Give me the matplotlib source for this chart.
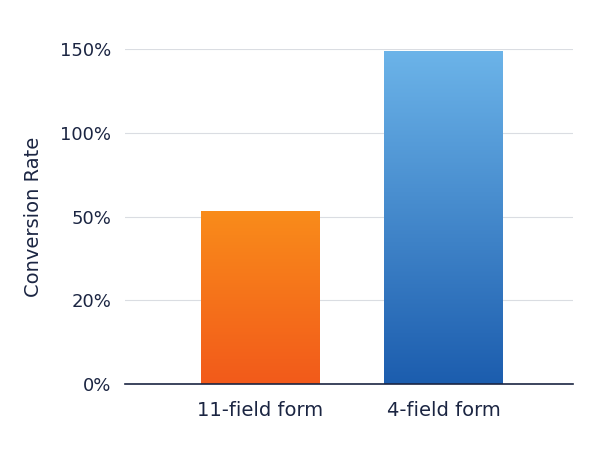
import numpy as np
import matplotlib
matplotlib.use("Agg")
import matplotlib.pyplot as plt
from matplotlib.colors import LinearSegmentedColormap

categories = ["11-field form", "4-field form"]
values = [53.5, 149]
tick_values = [0, 20, 50, 100, 150]
tick_labels = ["0%", "20%", "50%", "100%", "150%"]
top_colors = ["#F98C1B", "#6CB4E9"]
bottom_colors = ["#F25A1A", "#1C5DAE"]

idx = np.arange(len(tick_values), dtype=float)
fwd = lambda v: np.interp(v, tick_values, idx)
inv = lambda p: np.interp(p, idx, tick_values)

navy = "#1B2542"
fig = plt.figure(figsize=(6.11, 4.5), dpi=100)
ax = fig.add_axes([0.2046, 0.1467, 0.7334, 0.7443])
ax.set_yscale("function", functions=(fwd, inv))
ax.set_ylim(0, 150)
ax.set_xlim(-0.738, 1.708)
x = np.arange(len(categories))
bars = ax.bar(x, values, width=0.645, color="none")
ax.set_yticks(tick_values)
ax.set_yticklabels(tick_labels, fontsize=13, color=navy)
ax.set_xticks(x)
ax.set_xticklabels(categories, fontsize=14, color=navy)
ax.tick_params(length=0, pad=10)
ax.tick_params(axis="x", pad=12)
ax.grid(axis="y", color="#DADDE2", linewidth=0.8)
ax.set_axisbelow(True)
for s in ["top", "right", "left"]:
    ax.spines[s].set_visible(False)
ax.spines["bottom"].set_color(navy)
ax.spines["bottom"].set_linewidth(1.2)
ax.set_ylabel("Conversion Rate", fontsize=14, color=navy, labelpad=12)

t = ax.transData + ax.transAxes.inverted()
grad = np.linspace(1, 0, 256).reshape(-1, 1)
for b, v, tc, bc in zip(bars, values, top_colors, bottom_colors):
    x0 = b.get_x(); x1 = x0 + b.get_width()
    (ax0, ay0) = t.transform((x0, 0)); (ax1, ay1) = t.transform((x1, v))
    cmap = LinearSegmentedColormap.from_list("g", [bc, tc])
    im = ax.imshow(grad, cmap=cmap, aspect="auto", extent=(ax0, ax1, ay0, ay1),
                   transform=ax.transAxes, zorder=2)
    im.set_clip_path(b)

fig.savefig("out.png", dpi=100)
